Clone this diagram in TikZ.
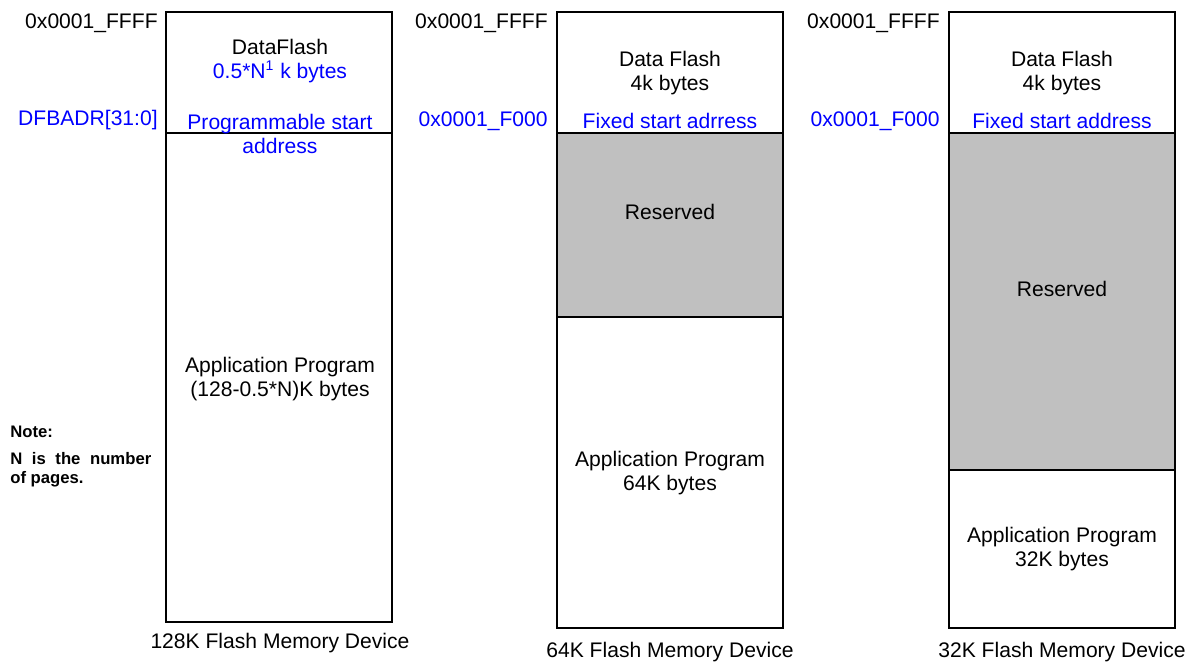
\documentclass[tikz,border=0pt]{standalone}
\usepackage{fontspec}
\setmainfont{Liberation Sans}
\usetikzlibrary{positioning}
\definecolor{addrblue}{RGB}{0,0,255}
\definecolor{resgrey}{RGB}{192,192,192}

\begin{document}
\begin{tikzpicture}[
			x=0.02cm, y=-0.02cm,
			region/.style={draw, line width=0.6pt},
			reserved/.style={region, fill=resgrey},
			txt/.style={font=\fontsize{12}{13.6}\selectfont, inner sep=0pt, align=center},
			addr/.style={txt, anchor=east},
			note/.style={font=\fontsize{9.5}{10.8}\selectfont\bfseries, inner sep=0pt}
		]
		\useasboundingbox (0,0) rectangle (1191,663);
		
		% 128K device
		\draw[region] (166,12) rectangle (392,622);
		\draw[region] (166,133) -- (392,133);
		\node[addr] (top-a) at (158,23) {0x0001\_FFFF};
		\node[addr, text=addrblue] (start-a) at (158,120) {DFBADR[31:0]};
		\node[txt] (df-a) at (280,61) {DataFlash\\\textcolor{addrblue}{0.5*N\textsuperscript{1} k bytes}};
		\node[txt, text=addrblue] (fix-a) at (280,134) {Programmable start\\address};
		\node[txt] (app-a) at (280,379) {Application Program\\(128-0.5*N)K bytes};
		\node[txt] (cap-a) at (280,643) {128K Flash Memory Device};
		
		% Note
		\node[note, anchor=base west] (note-title) at (10,437) {Note:};
		\node[note, anchor=north west, text width=2.82cm, align=justify] (note-body) at (10,452)
			{N is the number\linebreak of pages.};
		
		% 64K device
		\draw[reserved] (557,133) rectangle (783,317);
		\draw[region] (557,12) rectangle (783,628);
		\node[addr] (top-b) at (548,23) {0x0001\_FFFF};
		\node[addr, text=addrblue] (start-b) at (548,121) {0x0001\_F000};
		\node[txt] (df-b) at (670,73) {Data Flash\\4k bytes};
		\node[txt, text=addrblue] (fix-b) at (670,121) {Fixed start adrress};
		\node[txt] (res-b) at (670,212) {Reserved};
		\node[txt] (app-b) at (670,473) {Application Program\\64K bytes};
		\node[txt] (cap-b) at (670,652) {64K Flash Memory Device};
		
		% 32K device
		\draw[reserved] (949,133) rectangle (1175,470);
		\draw[region] (949,12) rectangle (1175,628);
		\node[addr] (top-c) at (940,23) {0x0001\_FFFF};
		\node[addr, text=addrblue] (start-c) at (940,121) {0x0001\_F000};
		\node[txt] (df-c) at (1062,73) {Data Flash\\4k bytes};
		\node[txt, text=addrblue] (fix-c) at (1062,121) {Fixed start address};
		\node[txt] (res-c) at (1062,289) {Reserved};
		\node[txt] (app-c) at (1062,549) {Application Program\\32K bytes};
		\node[txt] (cap-c) at (1062,652) {32K Flash Memory Device};
\end{tikzpicture}
\end{document}
